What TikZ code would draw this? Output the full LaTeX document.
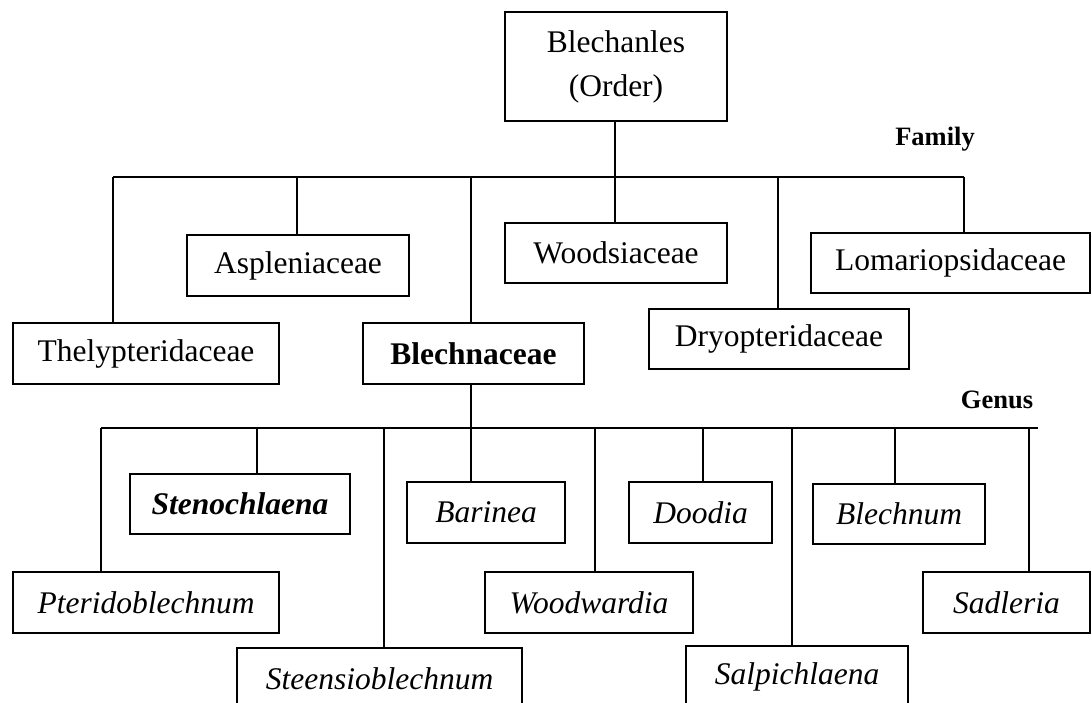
\documentclass[tikz,border=0pt]{standalone}
\usepackage{fontspec}
\setmainfont{Liberation Serif}
\begin{document}
\begin{tikzpicture}[x=1pt,y=-1pt,
  box/.style={draw,line width=1.6pt,inner sep=0pt,align=center,font=\fontsize{31.5}{44}\selectfont},
  conn/.style={line width=1.3pt},
  lbl/.style={inner sep=0pt,font=\fontsize{26.5}{30}\selectfont\bfseries}]
\useasboundingbox (0,0) rectangle (1092,703);
\clip (0,0) rectangle (1092,703);
% order
\node[box,minimum width=222pt,minimum height=109pt] (order) at (616,66.5) {Blechanles\\(Order)};
\node[lbl] (family) at (935,139) {Family};
% families
\node[box,minimum width=222pt,minimum height=61pt] (asp) at (298,265.5) {Aspleniaceae};
\node[box,minimum width=222pt,minimum height=60pt] (woo) at (616,253) {Woodsiaceae};
\node[box,minimum width=279pt,minimum height=60pt] (lom) at (950.5,263) {Lomariopsidaceae};
\node[box,minimum width=266pt,minimum height=61pt] (the) at (146,353.5) {Thelypteridaceae};
\node[box,minimum width=221pt,minimum height=61pt] (ble) at (473.5,353.5) {\bfseries Blechnaceae};
\node[box,minimum width=260pt,minimum height=60pt] (dry) at (779,339) {Dryopteridaceae};
\node[lbl] (genus) at (997,400) {Genus};
% genera
\node[box,minimum width=220pt,minimum height=60pt] (ste) at (240,504) {\bfseries\itshape Stenochlaena};
\node[box,minimum width=158pt,minimum height=61pt] (bar) at (486,512.5) {\itshape Barinea};
\node[box,minimum width=143pt,minimum height=61pt] (doo) at (700.5,512.5) {\itshape Doodia};
\node[box,minimum width=172pt,minimum height=60pt] (blm) at (899,514) {\itshape Blechnum};
\node[box,minimum width=266pt,minimum height=61pt] (pte) at (146,602.5) {\itshape Pteridoblechnum};
\node[box,minimum width=208pt,minimum height=61pt] (wdw) at (589,602.5) {\itshape Woodwardia};
\node[box,minimum width=167pt,minimum height=61pt] (sad) at (1006.5,602.5) {\itshape Sadleria};
\node[box,minimum width=285pt,minimum height=61pt] (stb) at (379.5,678.5) {\itshape Steensioblechnum};
\node[box,minimum width=222pt,minimum height=61pt] (sal) at (797,676.5) {\itshape Salpichlaena};
% family bus
\coordinate (fL) at (113,177);
\coordinate (fR) at (964,177);
\coordinate (f1) at (113,177);
\coordinate (f2) at (297,177);
\coordinate (f3) at (471,177);
\coordinate (f4) at (615,177);
\coordinate (f5) at (778,177);
\coordinate (f6) at (964,177);
\draw[conn] (fL) -- (fR);
\draw[conn] (order.south -| f4) -- (f4);
\draw[conn] (f1) -- (f1 |- the.north);
\draw[conn] (f2) -- (f2 |- asp.north);
\draw[conn] (f3) -- (f3 |- ble.north);
\draw[conn] (f4) -- (f4 |- woo.north);
\draw[conn] (f5) -- (f5 |- dry.north);
\draw[conn] (f6) -- (f6 |- lom.north);
% genus bus
\coordinate (gL) at (101,428);
\coordinate (gR) at (1038,428);
\coordinate (g1) at (101,428);
\coordinate (g2) at (257,428);
\coordinate (g3) at (384,428);
\coordinate (g4) at (471,428);
\coordinate (g5) at (595,428);
\coordinate (g6) at (703,428);
\coordinate (g7) at (792,428);
\coordinate (g8) at (895,428);
\coordinate (g9) at (1029,428);
\draw[conn] (gL) -- (gR);
\draw[conn] (ble.south -| g4) -- (g4);
\draw[conn] (g1) -- (g1 |- pte.north);
\draw[conn] (g2) -- (g2 |- ste.north);
\draw[conn] (g3) -- (g3 |- stb.north);
\draw[conn] (g4) -- (g4 |- bar.north);
\draw[conn] (g5) -- (g5 |- wdw.north);
\draw[conn] (g6) -- (g6 |- doo.north);
\draw[conn] (g7) -- (g7 |- sal.north);
\draw[conn] (g8) -- (g8 |- blm.north);
\draw[conn] (g9) -- (g9 |- sad.north);
\end{tikzpicture}
\end{document}
